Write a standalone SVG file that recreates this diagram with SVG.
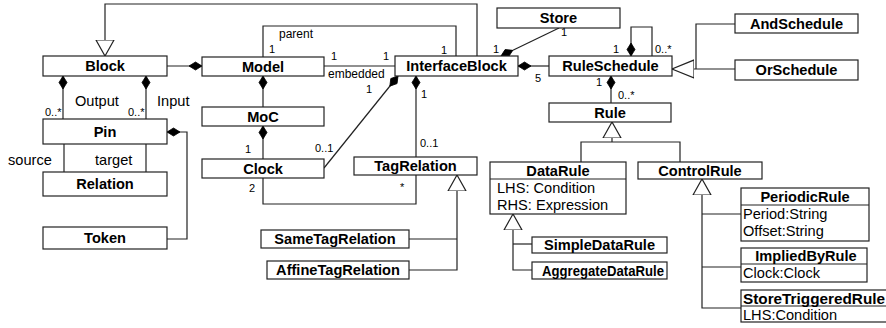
<svg xmlns="http://www.w3.org/2000/svg" width="886" height="328" viewBox="0 0 886 328">
<style>
text{font-family:"Liberation Sans",Arial,Helvetica,sans-serif;fill:#000}
.box{fill:#fff;stroke:#222;stroke-width:1.2}
.t{font-weight:bold;font-size:14.6px;text-anchor:middle}
.a{font-size:14.6px}
.r{font-size:14.4px}
.m{font-size:11px}
.s{font-size:12px}
.ln{fill:none;stroke:#222;stroke-width:1.2}
.dv{stroke:#222;stroke-width:1.2}
</style>
<defs>
<marker id="dia" markerUnits="userSpaceOnUse" markerWidth="14" markerHeight="10" viewBox="0 -5 14 10" refX="13" refY="0" orient="auto">
<path d="M0,0 L6.5,-4 L13,0 L6.5,4 Z" fill="#000" stroke="#000" stroke-width="0.8"/>
</marker>
<marker id="gen" markerUnits="userSpaceOnUse" markerWidth="18" markerHeight="22" viewBox="0 -10 18 20" refX="16" refY="0" orient="auto">
<path d="M0,-9 L16,0 L0,9 Z" fill="#fff" stroke="#222" stroke-width="1.2"/>
</marker>
<marker id="genw" markerUnits="userSpaceOnUse" markerWidth="24" markerHeight="22" viewBox="0 -10 24 20" refX="22" refY="0" orient="auto">
<path d="M0,-9 L22,0 L0,9 Z" fill="#fff" stroke="#222" stroke-width="1.2"/>
</marker>
</defs>
<g id="connectors">
<path class="ln" d="M477,56 V4 H105 V56" marker-end="url(#gen)"/>
<path class="ln" d="M167,66 H202" marker-end="url(#dia)"/>
<path class="ln" d="M263,57 V26 H456 V56"/>
<path class="ln" d="M324,66 H395"/>
<path class="ln" d="M263,107 V76" marker-end="url(#dia)"/>
<path class="ln" d="M263,159 V126" marker-end="url(#dia)"/>
<path class="ln" d="M324,168 L398,76" marker-end="url(#dia)"/>
<path class="ln" d="M416,157 V76" marker-end="url(#dia)"/>
<path class="ln" d="M263,178 V204 H416 V175"/>
<path class="ln" d="M409,239 H457"/>
<path class="ln" d="M409,270 H457 V175" marker-end="url(#gen)"/>
<path class="ln" d="M63,119 V76" marker-end="url(#dia)"/>
<path class="ln" d="M146,119 V76" marker-end="url(#dia)"/>
<path class="ln" d="M64,144 V172"/>
<path class="ln" d="M146,144 V172"/>
<path class="ln" d="M167,239 H187 V132 H167" marker-end="url(#dia)"/>
<path class="ln" d="M559,28 L501,56" marker-end="url(#dia)"/>
<path class="ln" d="M549,66 H518" marker-end="url(#dia)"/>
<path class="ln" d="M652,56 V27 H631 V56" marker-end="url(#dia)"/>
<path class="ln" d="M611,103 V76" marker-end="url(#dia)"/>
<path class="ln" d="M735,24 H696 V69"/>
<path class="ln" d="M735,69 H672" marker-end="url(#genw)"/>
<path class="ln" d="M581,162 V142 H680 V162"/>
<path class="ln" d="M612,142 V122" marker-end="url(#gen)"/>
<path class="ln" d="M532,244 H513"/>
<path class="ln" d="M532,270 H513 V214" marker-end="url(#gen)"/>
<path class="ln" d="M741,214 H702"/>
<path class="ln" d="M741,267 H702"/>
<path class="ln" d="M741,308 H702 V179" marker-end="url(#gen)"/>
<text class="m" x="45" y="116">0..*</text>
<text class="m" x="128" y="116">0..*</text>
<text class="a" x="75" y="106">Output</text>
<text class="a" x="157" y="106">Input</text>
<text class="a" x="8" y="165">source</text>
<text class="a" x="95" y="165">target</text>
<text class="s" x="279" y="38">parent</text>
<text class="m" x="269" y="53">1</text>
<text class="m" x="441" y="54">1</text>
<text class="m" x="331" y="60">1</text>
<text class="m" x="383" y="60">1</text>
<text class="s" x="328" y="78">embedded</text>
<text class="m" x="366" y="93">1</text>
<text class="m" x="421" y="98">1</text>
<text class="m" x="315" y="152">0..1</text>
<text class="m" x="420" y="147">0..1</text>
<text class="m" x="245" y="153">1</text>
<text class="m" x="249" y="192">2</text>
<text class="m" x="400" y="191">*</text>
<text class="m" x="561" y="36">1</text>
<text class="m" x="493" y="53">1</text>
<text class="m" x="535" y="82">5</text>
<text class="m" x="613" y="53">1</text>
<text class="m" x="655" y="53">0..*</text>
<text class="m" x="596" y="86">1</text>
<text class="m" x="618" y="99">0..*</text>
</g>
<g id="Block"><rect class="box" x="43" y="56" width="124" height="20"/><text class="t" x="105" y="71">Block</text></g>
<g id="Model"><rect class="box" x="202" y="57" width="122" height="19"/><text class="t" x="263" y="71.5">Model</text></g>
<g id="InterfaceBlock"><rect class="box" x="395" y="56" width="123" height="20"/><text class="t" x="456.5" y="71">InterfaceBlock</text></g>
<g id="Store"><rect class="box" x="497" y="8" width="123" height="20"/><text class="t" x="558.5" y="23">Store</text></g>
<g id="RuleSchedule"><rect class="box" x="549" y="56" width="123" height="20"/><text class="t" x="610.5" y="71">RuleSchedule</text></g>
<g id="AndSchedule"><rect class="box" x="735" y="14" width="123" height="19"/><text class="t" x="796.5" y="28.5">AndSchedule</text></g>
<g id="OrSchedule"><rect class="box" x="735" y="60" width="123" height="20"/><text class="t" x="796.5" y="75">OrSchedule</text></g>
<g id="Rule"><rect class="box" x="549" y="103" width="122" height="19"/><text class="t" x="610" y="117.5">Rule</text></g>
<g id="MoC"><rect class="box" x="202" y="107" width="122" height="19"/><text class="t" x="263" y="121.5">MoC</text></g>
<g id="Pin"><rect class="box" x="43" y="119" width="124" height="25"/><text class="t" x="105" y="136.5">Pin</text></g>
<g id="Clock"><rect class="box" x="202" y="159" width="122" height="19"/><text class="t" x="263" y="173.5">Clock</text></g>
<g id="TagRelation"><rect class="box" x="354" y="157" width="123" height="18"/><text class="t" x="415.5" y="171">TagRelation</text></g>
<g id="DataRule"><rect class="box" x="490" y="162" width="136" height="52"/><line class="dv" x1="490" y1="179" x2="626" y2="179"/><text class="t" x="558" y="175.5">DataRule</text><text class="a" x="497" y="192.5">LHS: Condition</text><text class="a" x="497" y="209.5">RHS: Expression</text></g>
<g id="ControlRule"><rect class="box" x="638" y="162" width="124" height="17"/><text class="t" x="700" y="175.5">ControlRule</text></g>
<g id="Relation"><rect class="box" x="43" y="172" width="124" height="24"/><text class="t" x="105" y="189">Relation</text></g>
<g id="PeriodicRule"><rect class="box" x="741" y="188" width="128" height="53"/><line class="dv" x1="741" y1="205" x2="869" y2="205"/><text class="t" x="805" y="201.5">PeriodicRule</text><text class="a" x="743" y="218.5">Period:String</text><text class="a" x="743" y="235.5">Offset:String</text></g>
<g id="SimpleDataRule"><rect class="box" x="532" y="237" width="135" height="16"/><text class="t" x="599.5" y="250">SimpleDataRule</text></g>
<g id="Token"><rect class="box" x="43" y="227" width="124" height="22"/><text class="t" x="105" y="243">Token</text></g>
<g id="SameTagRelation"><rect class="box" x="261" y="230" width="148" height="18"/><text class="t" x="335" y="244">SameTagRelation</text></g>
<g id="AffineTagRelation"><rect class="box" x="267" y="261" width="142" height="18"/><text class="t" x="338" y="275">AffineTagRelation</text></g>
<g id="AggregateDataRule"><rect class="box" x="532" y="262" width="135" height="17"/><text class="t" x="603" y="275.5" textLength="122" lengthAdjust="spacingAndGlyphs">AggregateDataRule</text></g>
<g id="ImpliedByRule"><rect class="box" x="741" y="248" width="126" height="34"/><line class="dv" x1="741" y1="264" x2="867" y2="264"/><text class="t" x="806" y="261">ImpliedByRule</text><text class="a" x="743" y="277.5">Clock:Clock</text></g>
<g id="StoreTriggeredRule"><rect class="box" x="741" y="290" width="160" height="32"/><line class="dv" x1="741" y1="306" x2="901" y2="306"/><text class="t" x="814" y="303.5" textLength="142" lengthAdjust="spacingAndGlyphs">StoreTriggeredRule</text><text class="a" x="743" y="319.5">LHS:Condition</text></g>
</svg>
